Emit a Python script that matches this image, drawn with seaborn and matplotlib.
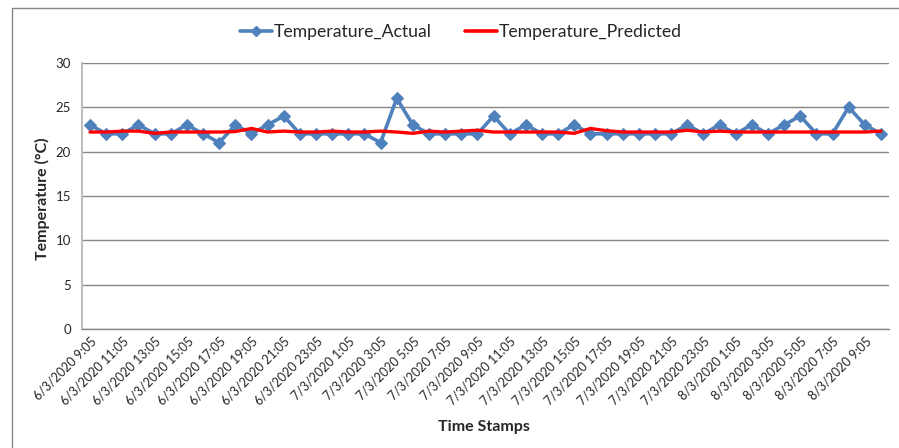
import matplotlib
matplotlib.use("Agg")
import matplotlib.pyplot as plt
from matplotlib.lines import Line2D
import seaborn as sns
import pandas as pd
import numpy as np

# ---- data ----
temperature_actual = [23, 22, 22, 23, 22, 22, 23, 22, 21, 23,
                      22, 23, 24, 22, 22, 22, 22, 22, 21, 26,
                      23, 22, 22, 22, 22, 24, 22, 23, 22, 22,
                      23, 22, 22, 22, 22, 22, 22, 23, 22, 23,
                      22, 23, 22, 23, 24, 22, 22, 25, 23, 22]
temperature_predicted = [22.2, 22.2, 22.3, 22.3, 22.05, 22.2, 22.2, 22.2, 22.2, 22.25,
                         22.6, 22.2, 22.3, 22.2, 22.2, 22.3, 22.2, 22.2, 22.3, 22.2,
                         22.05, 22.3, 22.2, 22.3, 22.4, 22.2, 22.2, 22.2, 22.2, 22.2,
                         22.05, 22.6, 22.35, 22.2, 22.2, 22.2, 22.2, 22.4, 22.2, 22.3,
                         22.2, 22.2, 22.2, 22.2, 22.2, 22.2, 22.2, 22.2, 22.2, 22.3]
tick_labels = ["6/3/2020 9:05", "6/3/2020 11:05", "6/3/2020 13:05", "6/3/2020 15:05",
               "6/3/2020 17:05", "6/3/2020 19:05", "6/3/2020 21:05", "6/3/2020 23:05",
               "7/3/2020 1:05", "7/3/2020 3:05", "7/3/2020 5:05", "7/3/2020 7:05",
               "7/3/2020 9:05", "7/3/2020 11:05", "7/3/2020 13:05", "7/3/2020 15:05",
               "7/3/2020 17:05", "7/3/2020 19:05", "7/3/2020 21:05", "7/3/2020 23:05",
               "8/3/2020 1:05", "8/3/2020 3:05", "8/3/2020 5:05", "8/3/2020 7:05",
               "8/3/2020 9:05"]

sns.set_style("white")
plt.rcParams['font.family'] = ['Lato', 'DejaVu Sans']

n = len(temperature_actual)
df = pd.DataFrame({"idx": np.arange(n),
                   "Temperature_Actual": temperature_actual,
                   "Temperature_Predicted": temperature_predicted})

fig = plt.figure(figsize=(8.99, 4.48), dpi=100)
ax = fig.add_axes([82 / 899, 1 - 329.3 / 448, (889 - 82) / 899, (329.3 - 62.7) / 448])

blue = "#4f81bd"
red = "#ff0000"
sns.lineplot(data=df, x="idx", y="Temperature_Actual", ax=ax, color=blue, lw=2.6,
             marker="D", markersize=6.5, markeredgecolor=blue, markerfacecolor=blue,
             label="Temperature_Actual", legend=False, zorder=3)
sns.lineplot(data=df, x="idx", y="Temperature_Predicted", ax=ax, color=red, lw=2.4,
             label="Temperature_Predicted", legend=False, zorder=4)

ax.set_xlim(-0.5, n - 0.5)
ax.set_ylim(0, 30)
ax.set_yticks(range(0, 31, 5))
ax.yaxis.grid(True, color="#868686", lw=1)
ax.xaxis.grid(False)
ax.set_axisbelow(True)

ax.set_xticks(np.arange(-0.5, n, 1.0), minor=True)
ax.set_xticks(np.arange(0, n, 2))
ax.set_xticklabels(tick_labels, rotation=45, ha="right", va="top",
                   rotation_mode="anchor", fontsize=9, color="#262626")
ax.tick_params(axis="x", which="major", length=0, pad=4)
ax.tick_params(axis="x", which="minor", length=5, width=1, color="#868686", direction="out")
ax.tick_params(axis="y", length=5, width=1, color="#868686", direction="out",
               labelsize=9.5, labelcolor="#262626", pad=3)

for s in ["top", "right"]:
    ax.spines[s].set_visible(False)
ax.spines["left"].set_color("#bfbfbf")
ax.spines["left"].set_linewidth(1.5)
ax.spines["bottom"].set_color("#868686")
ax.spines["bottom"].set_linewidth(1)

ax.set_xlabel("Time Stamps", fontsize=11.5, fontweight="bold")
ax.set_ylabel("Temperature (°C)", fontsize=11.5, fontweight="bold")
ax.xaxis.set_label_coords((484 - 82) / (889 - 82), -(427 - 329.3) / (329.3 - 62.7))
ax.yaxis.set_label_coords(-(82 - 42) / (889 - 82), (329.3 - 199) / (329.3 - 62.7))
ax.xaxis.label.set_va("center")
ax.yaxis.label.set_va("center")

handles = [Line2D([], [], color=blue, lw=2.6, marker="D", markersize=5.5),
           Line2D([], [], color=red, lw=2.6)]
fig.legend(handles, ["Temperature_Actual", "Temperature_Predicted"], ncol=2,
           loc="center", bbox_to_anchor=(461 / 899, 1 - 32 / 448), frameon=False,
           fontsize=12.7, handlelength=1.8, handletextpad=0.1, columnspacing=1.9)

# outer chart border (top and left visible)
fig.add_artist(Line2D([12 / 899, 12 / 899], [0, 1 - 8 / 448], transform=fig.transFigure,
                      color="#868686", lw=1))
fig.add_artist(Line2D([12 / 899, 1], [1 - 8 / 448, 1 - 8 / 448], transform=fig.transFigure,
                      color="#868686", lw=1))

fig.savefig("out.png", dpi=100)
